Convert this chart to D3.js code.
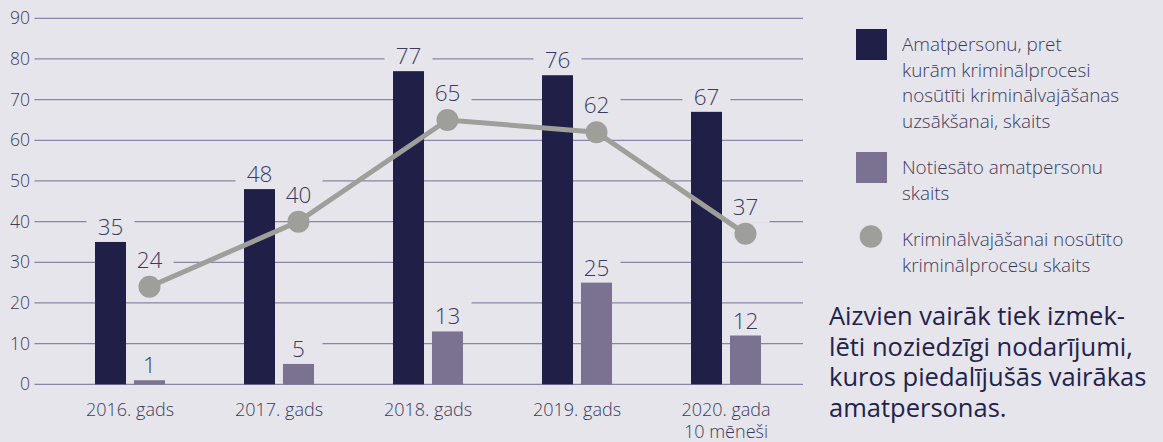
<!DOCTYPE html>
<html>
<head>
<meta charset="utf-8">
<script src="https://cdn.jsdelivr.net/npm/d3@7"></script>
<style>
  body { margin: 0; background: #e6e5ec; }
  svg { display: block; font-family: "Open Sans", "Noto Sans", sans-serif; font-variant-ligatures: none; }
</style>
</head>
<body>
<svg id="chart" width="1163" height="442"></svg>
<script>
// data
const years = ["2016. gads", "2017. gads", "2018. gads", "2019. gads", "2020. gada|10 mēneši"];
const sentToProsecution = [35, 48, 77, 76, 67];   // dark bars
const convicted = [1, 5, 13, 25, 12];              // light bars
const casesSent = [24, 40, 65, 62, 37];            // grey line
const yTicks = [0, 10, 20, 30, 40, 50, 60, 70, 80, 90];

const legendItems = [
  { kind: "rect", color: "#201f48", lines: ["Amatpersonu, pret", "kurām kriminālprocesi", "nosūtīti kriminālvajāšanas", "uzsākšanai, skaits"] },
  { kind: "rect", color: "#7a7290", lines: ["Notiesāto amatpersonu", "skaits"] },
  { kind: "circle", color: "#9e9e9b", lines: ["Kriminālvajāšanai nosūtīto", "kriminālprocesu skaits"] }
];
const note = ["Aizvien vairāk tiek izmek-", "lēti noziedzīgi nodarījumi,", "kuros piedalījušās vairākas", "amatpersonas."];

const bg = "#e6e5ec";
const textCol = "#3b3a5e";
const svg = d3.select("#chart");

const y = d3.scaleLinear().domain([0, 90]).range([384.3, 18.3]);
const x = d3.scaleBand().domain(years).range([55.5, 800.5]);
const xs = d3.scaleBand().domain([0, 1]).range([-35, 35]).paddingInner(0.205);
const cx = d => x(d) + x.bandwidth() / 2;

// gridlines + tick labels
const grid = svg.append("g");
grid.selectAll("line").data(yTicks).enter().append("line")
  .attr("x1", 34.5).attr("x2", 803)
  .attr("y1", d => y(d)).attr("y2", d => y(d))
  .attr("stroke", "#8a84a6").attr("stroke-width", 1.3);
grid.selectAll("text").data(yTicks).enter().append("text")
  .attr("x", 30).attr("y", d => y(d) + 6)
  .attr("text-anchor", "end")
  .attr("font-size", 17.5).attr("font-weight", 300)
  .attr("fill", textCol)
  .text(d => d);

// value labels collected so their backgrounds can cut the gridlines
const labels = [];
years.forEach((yr, i) => {
  labels.push({ x: cx(yr) + xs(0) + xs.bandwidth() / 2, y: y(sentToProsecution[i]) - 7, v: sentToProsecution[i] });
  labels.push({ x: cx(yr) + xs(1) + xs.bandwidth() / 2, y: y(convicted[i]) - 7, v: convicted[i] });
  labels.push({ x: cx(yr) + xs(1) + xs.bandwidth() / 2, y: y(casesSent[i]) - 19, v: casesSent[i] });
});

svg.append("g").selectAll("rect").data(labels).enter().append("rect")
  .attr("x", d => d.x - 24).attr("y", d => d.y - 24)
  .attr("width", 48).attr("height", 32)
  .attr("fill", bg);

// bars
const bars = svg.append("g");
bars.selectAll(".dark").data(years).enter().append("rect")
  .attr("x", d => cx(d) + xs(0)).attr("width", xs.bandwidth())
  .attr("y", (d, i) => y(sentToProsecution[i]))
  .attr("height", (d, i) => y(0) - y(sentToProsecution[i]))
  .attr("fill", "#201f48");
bars.selectAll(".light").data(years).enter().append("rect")
  .attr("x", d => cx(d) + xs(1)).attr("width", xs.bandwidth())
  .attr("y", (d, i) => y(convicted[i]))
  .attr("height", (d, i) => y(0) - y(convicted[i]))
  .attr("fill", "#7a7290");

// line + dots
const line = d3.line()
  .x((d, i) => cx(years[i]) + xs(1) + xs.bandwidth() / 2)
  .y(d => y(d));
svg.append("path").datum(casesSent)
  .attr("d", line)
  .attr("fill", "none").attr("stroke", "#9e9e9b").attr("stroke-width", 5);
svg.append("g").selectAll("circle").data(casesSent).enter().append("circle")
  .attr("cx", (d, i) => cx(years[i]) + xs(1) + xs.bandwidth() / 2)
  .attr("cy", d => y(d)).attr("r", 11)
  .attr("fill", "#9e9e9b");

// value labels
svg.append("g").selectAll("text").data(labels).enter().append("text")
  .attr("x", d => d.x).attr("y", d => d.y)
  .attr("text-anchor", "middle")
  .attr("font-size", 22.5).attr("font-weight", 300)
  .attr("fill", textCol)
  .text(d => d.v);

// category labels
const cat = svg.append("g").selectAll("text").data(years).enter().append("text")
  .attr("x", d => cx(d)).attr("y", 416)
  .attr("text-anchor", "middle")
  .attr("font-size", 18).attr("font-weight", 300)
  .attr("fill", textCol);
cat.selectAll("tspan").data(d => d.split("|")).enter().append("tspan")
  .attr("x", function () { return cx(d3.select(this.parentNode).datum()); })
  .attr("dy", (d, i) => i === 0 ? 0 : 22)
  .text(d => d);

// legend
const legendTop = [29, 152, 225];
legendItems.forEach((item, k) => {
  const g = svg.append("g").attr("transform", `translate(856,${legendTop[k]})`);
  if (item.kind === "rect") {
    g.append("rect").attr("width", 31).attr("height", 31).attr("fill", item.color);
  } else {
    g.append("circle").attr("cx", 15).attr("cy", 11.5).attr("r", 11.3).attr("fill", item.color);
  }
  const baseline = item.kind === "rect" ? 22 : 21;
  g.selectAll("text").data(item.lines).enter().append("text")
    .attr("x", 46).attr("y", (d, i) => baseline + i * 25.7)
    .attr("font-size", 18.9).attr("font-weight", 300)
    .attr("fill", textCol)
    .text(d => d);
});

// note
svg.append("g").selectAll("text").data(note).enter().append("text")
  .attr("x", 829).attr("y", (d, i) => 325 + i * 30.6)
  .attr("font-size", 25.5).attr("font-weight", 400)
  .attr("fill", "#23224a")
  .text(d => d);
</script>
</body>
</html>
